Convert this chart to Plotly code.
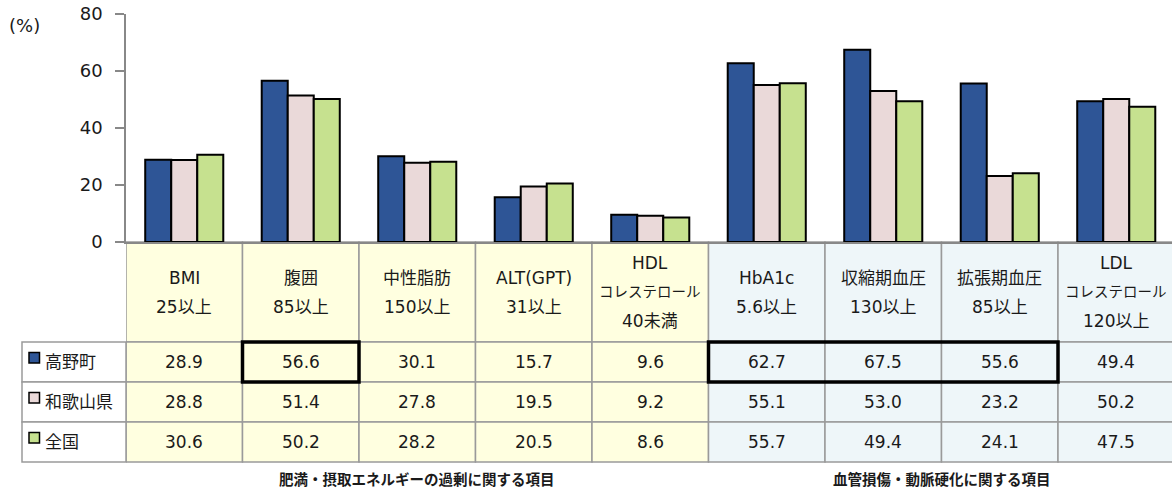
import plotly.graph_objects as go

# ---------------- data ----------------
categories = ["BMI", "腹囲", "中性脂肪", "ALT(GPT)", "HDLコレステロール",
              "HbA1c", "収縮期血圧", "拡張期血圧", "LDLコレステロール"]
header_lines = [
    ["BMI", "25以上"],
    ["腹囲", "85以上"],
    ["中性脂肪", "150以上"],
    ["ALT(GPT)", "31以上"],
    ["HDL", "コレステロール", "40未満"],
    ["HbA1c", "5.6以上"],
    ["収縮期血圧", "130以上"],
    ["拡張期血圧", "85以上"],
    ["LDL", "コレステロール", "120以上"],
]
series_names = ["高野町", "和歌山県", "全国"]
takano = [28.9, 56.6, 30.1, 15.7, 9.6, 62.7, 67.5, 55.6, 49.4]
wakayama = [28.8, 51.4, 27.8, 19.5, 9.2, 55.1, 53.0, 23.2, 50.2]
zenkoku = [30.6, 50.2, 28.2, 20.5, 8.6, 55.7, 49.4, 24.1, 47.5]
series_values = [takano, wakayama, zenkoku]
y_ticks = [0, 20, 40, 60, 80]
groups = [("肥満・摂取エネルギーの過剰に関する項目", 0, 4),
          ("血管損傷・動脈硬化に関する項目", 5, 8)]
highlights = [(0, 1, 1), (0, 5, 7)]   # (series row, first col, last col)

# ---------------- styles ----------------
colors = ["#2E5596", "#EAD9D9", "#C6E18F"]
group_fill = ["#FFFFE0", "#EEF6F9"]
border = "#9A9A9A"
axis_col = "#888888"
FONT = "DejaVu Sans, Noto Sans CJK JP, sans-serif"
JFONT = "Noto Sans CJK JP, sans-serif"
TXT = "#1a1a1a"
FS = 17

W, H = 1172, 490
PLOT_L, PLOT_T, AXIS_Y = 126, 14, 242
COL_W = 116.5
PLOT_H = AXIS_Y - PLOT_T
HEADER_B = 342
ROW_H = 40
LEG_X0 = 22


def py(p):
    """pixel y -> paper y"""
    return (AXIS_Y - p) / PLOT_H


def px(p):
    """pixel x -> paper x"""
    return (p - PLOT_L) / (W - PLOT_L)


n = len(categories)
idx = list(range(n))

fig = go.Figure()
for name, vals, col in zip(series_names, series_values, colors):
    fig.add_trace(go.Bar(x=idx, y=vals, name=name, marker_color=col,
                         marker_line=dict(color="black", width=2),
                         showlegend=False, hoverinfo="y+name"))

shapes = []
annos = []


def fill_for(i):
    for gi, (_, a, b) in enumerate(groups):
        if a <= i <= b:
            return group_fill[gi]
    return "white"


def is_kana_line(t):
    return all('\u30a0' <= ch <= '\u30ff' for ch in t)


# header row + value rows
for i in idx:
    f = fill_for(i)
    shapes.append(dict(type="rect", xref="x", yref="paper", x0=i - 0.5, x1=i + 0.5,
                       y0=py(HEADER_B), y1=py(AXIS_Y), fillcolor=f,
                       line=dict(color=border, width=1.5), layer="below"))
    lines = header_lines[i]
    m = len(lines)
    for k, t in enumerate(lines):
        yc = (AXIS_Y + HEADER_B) / 2 + (k - (m - 1) / 2) * 29
        annos.append(dict(x=i, y=py(yc), xref="x", yref="paper", text=t,
                          showarrow=False, xanchor="center", yanchor="middle",
                          font=dict(size=14.5 if is_kana_line(t) else FS,
                                    color=TXT, family=FONT)))
    for r, vals in enumerate(series_values):
        top = HEADER_B + r * ROW_H
        shapes.append(dict(type="rect", xref="x", yref="paper", x0=i - 0.5, x1=i + 0.5,
                           y0=py(top + ROW_H), y1=py(top), fillcolor=f,
                           line=dict(color=border, width=1.5), layer="below"))
        annos.append(dict(x=i, y=py(top + ROW_H / 2), xref="x", yref="paper",
                          text=f"{vals[i]:.1f}", showarrow=False,
                          xanchor="center", yanchor="middle",
                          font=dict(size=FS, color=TXT, family=FONT)))

# legend column
for r, (name, col) in enumerate(zip(series_names, colors)):
    top = HEADER_B + r * ROW_H
    shapes.append(dict(type="rect", xref="paper", yref="paper", x0=px(LEG_X0), x1=0,
                       y0=py(top + ROW_H), y1=py(top), fillcolor="white",
                       line=dict(color=border, width=1.5), layer="below"))
    shapes.append(dict(type="rect", xref="paper", yref="paper", x0=px(29), x1=px(39.5),
                       y0=py(top + 21), y1=py(top + 10.5), fillcolor=col,
                       line=dict(color="black", width=1.5)))
    annos.append(dict(x=px(43), y=py(top + ROW_H / 2), xref="paper", yref="paper",
                      text=name, showarrow=False, xanchor="left", yanchor="middle",
                      font=dict(size=FS, color=TXT, family=FONT)))

# highlighted boxes
for r, a, b in highlights:
    top = HEADER_B + r * ROW_H
    shapes.append(dict(type="rect", xref="x", yref="paper", x0=a - 0.5, x1=b + 0.5,
                       y0=py(top + ROW_H), y1=py(top), fillcolor="rgba(0,0,0,0)",
                       line=dict(color="black", width=3.5)))

# group labels
for label, a, b in groups:
    annos.append(dict(x=(a + b) / 2, y=py(478), xref="x", yref="paper", text=f"<b>{label}</b>",
                      showarrow=False, xanchor="center", yanchor="middle",
                      font=dict(size=14.5, color=TXT, family=JFONT)))

# unit label
annos.append(dict(x=px(7), y=py(25), xref="paper", yref="paper", text="(%)",
                  showarrow=False, xanchor="left", yanchor="middle",
                  font=dict(size=18, color=TXT, family=FONT)))

fig.update_layout(
    width=W, height=H,
    margin=dict(l=PLOT_L, r=0, t=PLOT_T, b=H - AXIS_Y, pad=0),
    paper_bgcolor="white", plot_bgcolor="white",
    barmode="group", bargap=0.33, bargroupgap=0,
    shapes=shapes, annotations=annos,
    xaxis=dict(range=[-0.5, -0.5 + (W - PLOT_L) / COL_W], showticklabels=False,
               showgrid=False, zeroline=False, showline=True, linecolor=axis_col,
               linewidth=1.5, ticks="", fixedrange=True),
    yaxis=dict(range=[0, 80], tickvals=y_ticks, showgrid=False, zeroline=False,
               showline=True, linecolor=axis_col, linewidth=1.5, ticks="outside",
               ticklen=9, tickcolor=axis_col, tickwidth=1.5, ticklabelstandoff=9,
               tickfont=dict(size=FS + 1, color=TXT, family=FONT), fixedrange=True),
)

fig.write_html("out.html", config={"displayModeBar": False},
               post_script="document.body.style.margin='0px';")
